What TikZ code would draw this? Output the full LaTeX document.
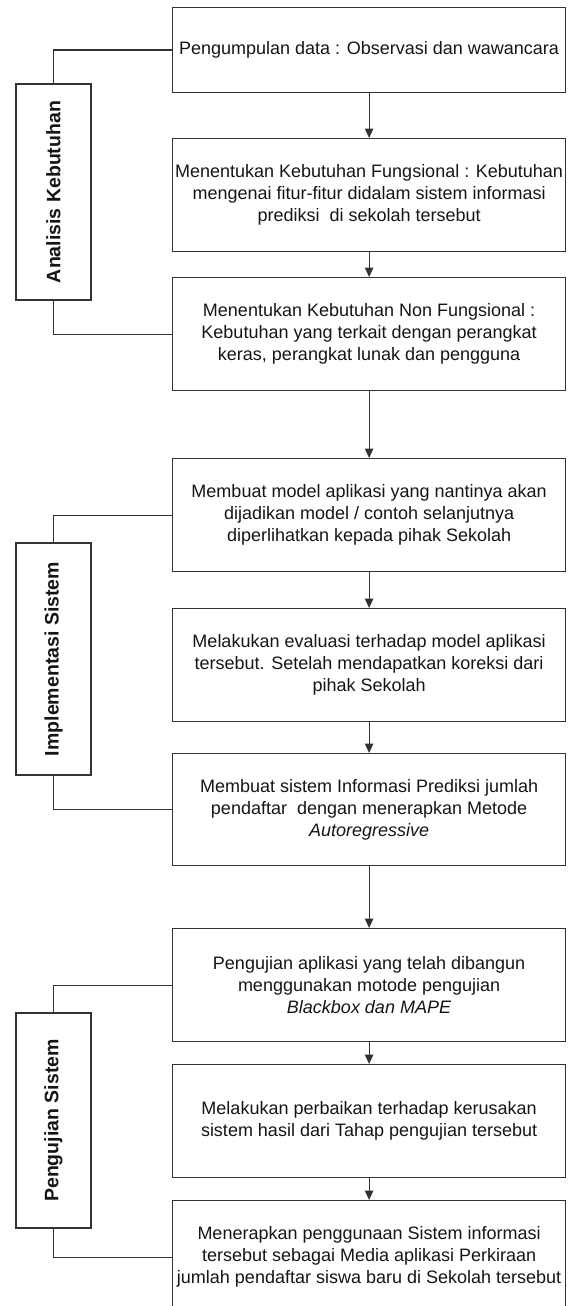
\documentclass[tikz,border=0pt]{standalone}
\usepackage{fontspec}
\setmainfont{Liberation Sans}
\usetikzlibrary{arrows.meta}
\definecolor{linec}{HTML}{333333}
\definecolor{textc}{HTML}{151515}
\begin{document}
\begin{tikzpicture}[x=1pt,y=-1pt,
  stepbox/.style={draw=linec, line width=1.2pt, minimum width=393pt, inner sep=0pt,
    align=center, font=\fontsize{18}{22}\selectfont, text=textc, anchor=north west},
  phase/.style={draw=linec, line width=1.2pt, minimum height=75pt, inner sep=0pt,
    rotate=90, font=\bfseries\fontsize{19.5}{23}\selectfont, text=textc},
  link/.style={draw=linec, line width=1.2pt},
  flow/.style={link, -{Triangle[length=9.5pt,width=8.5pt]}}]
\useasboundingbox (0,0) rectangle (569,1306);

\node[stepbox, minimum height=85pt] (b1) at (172,7) {Pengumpulan data : Observasi dan wawancara};
\node[stepbox, minimum height=113pt] (b2) at (172,138) {Menentukan Kebutuhan Fungsional : Kebutuhan\\mengenai fitur-fitur didalam sistem informasi\\prediksi\ \ di sekolah tersebut};
\node[stepbox, minimum height=113pt] (b3) at (172,277) {Menentukan Kebutuhan Non Fungsional :\\Kebutuhan yang terkait dengan perangkat\\keras, perangkat lunak dan pengguna};
\node[stepbox, minimum height=113pt] (b4) at (172,458) {Membuat model aplikasi yang nantinya akan\\dijadikan model / contoh selanjutnya\\diperlihatkan kepada pihak Sekolah};
\node[stepbox, minimum height=113pt] (b5) at (172,608) {Melakukan evaluasi terhadap model aplikasi\\tersebut. Setelah mendapatkan koreksi dari\\pihak Sekolah};
\node[stepbox, minimum height=112pt] (b6) at (172,753) {Membuat sistem Informasi Prediksi jumlah\\pendaftar\ \ dengan menerapkan Metode\\\textit{Autoregressive}};
\node[stepbox, minimum height=113pt] (b7) at (172,928) {Pengujian aplikasi yang telah dibangun\\menggunakan motode pengujian\\\textit{Blackbox dan MAPE}};
\node[stepbox, minimum height=113pt] (b8) at (172,1064) {Melakukan perbaikan terhadap kerusakan\\sistem hasil dari Tahap pengujian tersebut};
\node[stepbox, minimum height=113pt] (b9) at (172,1200) {Menerapkan penggunaan Sistem informasi\\tersebut sebagai Media aplikasi Perkiraan\\jumlah pendaftar siswa baru di Sekolah tersebut};

\node[phase, minimum width=216pt] (s1) at (53.5,192) {Analisis Kebutuhan};
\node[phase, minimum width=232pt] (s2) at (53.5,659) {Implementasi Sistem};
\node[phase, minimum width=215pt] (s3) at (53.5,1120.5) {Pengujian Sistem};

\draw[flow] (b1.south) -- (b2.north);
\draw[flow] (b2.south) -- (b3.north);
\draw[flow] (b3.south) -- (b4.north);
\draw[flow] (b4.south) -- (b5.north);
\draw[flow] (b5.south) -- (b6.north);
\draw[flow] (b6.south) -- (b7.north);
\draw[flow] (b7.south) -- (b8.north);
\draw[flow] (b8.south) -- (b9.north);

\draw[link] (s1.east) |- (b1.west);
\draw[link] (s1.west) |- (b3.west);
\draw[link] (s2.east) |- (b4.west);
\draw[link] (s2.west) |- (b6.west);
\draw[link] (s3.east) |- (b7.west);
\draw[link] (s3.west) |- (b9.west);
\end{tikzpicture}
\end{document}
